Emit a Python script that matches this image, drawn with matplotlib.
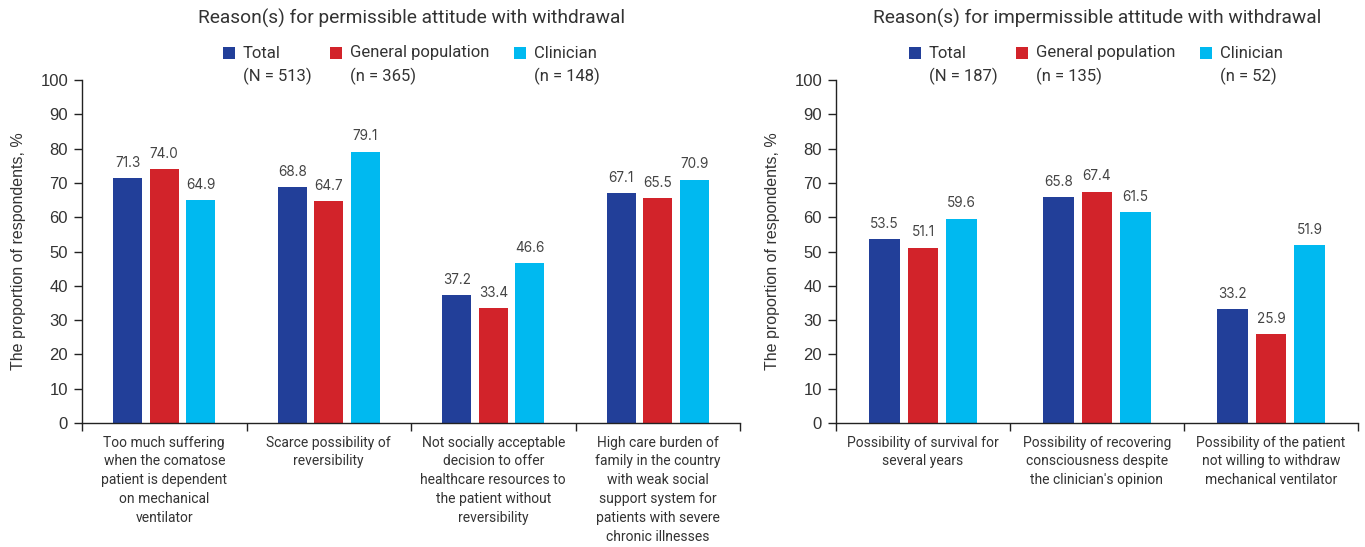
import matplotlib
matplotlib.use("Agg")
import matplotlib.pyplot as plt
from matplotlib.patches import Rectangle
import numpy as np

# ---- data ----
series_names = ["Total", "General population", "Clinician"]
colors = ["#223F99", "#D2232A", "#00B9F0"]

permissible_title = "Reason(s) for permissible attitude with withdrawal"
permissible_counts = ["(N = 513)", "(n = 365)", "(n = 148)"]
permissible_categories = [
    "Too much suffering\nwhen the comatose\npatient is dependent\non mechanical\nventilator",
    "Scarce possibility of\nreversibility",
    "Not socially acceptable\ndecision to offer\nhealthcare resources to\nthe patient without\nreversibility",
    "High care burden of\nfamily in the country\nwith weak social\nsupport system for\npatients with severe\nchronic illnesses",
]
permissible_total = [71.3, 68.8, 37.2, 67.1]
permissible_general = [74.0, 64.7, 33.4, 65.5]
permissible_clinician = [64.9, 79.1, 46.6, 70.9]

impermissible_title = "Reason(s) for impermissible attitude with withdrawal"
impermissible_counts = ["(N = 187)", "(n = 135)", "(n = 52)"]
impermissible_categories = [
    "Possibility of survival for\nseveral years",
    "Possibility of recovering\nconsciousness despite\nthe clinician's opinion",
    "Possibility of the patient\nnot willing to withdraw\nmechanical ventilator",
]
impermissible_total = [53.5, 65.8, 33.2]
impermissible_general = [51.1, 67.4, 25.9]
impermissible_clinician = [59.6, 61.5, 51.9]

y_ticks = list(range(0, 101, 10))
y_label = "The proportion of respondents, %"

# ---- styling ----
W, H = 1365, 547
LABEL_FONT = ["Roboto", "DejaVu Sans"]
TICK_FONT = ["Liberation Sans", "DejaVu Sans"]
VALUE_FONT = ["Inter", "DejaVu Sans"]
TEXT_COLOR = "#333333"
AXIS_COLOR = "#222222"

fig = plt.figure(figsize=(W / 100, H / 100), dpi=100)


def fx(px):
    return px / W


def fy(py):
    return 1 - py / H


def draw_panel(left_px, right_px, title, counts, categories, series):
    y0_px, y100_px = 423, 80
    ax = fig.add_axes([fx(left_px), fy(y0_px), fx(right_px - left_px),
                       (y0_px - y100_px) / H])
    n = len(categories)
    x = np.arange(n)
    width = 0.176
    step = 0.221
    for i, (vals, col) in enumerate(zip(series, colors)):
        pos = x + (i - 1) * step
        bars = ax.bar(pos, vals, width=width, color=col, zorder=2)
        for b, v in zip(bars, vals):
            ax.annotate(f"{v:.1f}", (b.get_x() + b.get_width() / 2, v),
                        xytext=(0, 6), textcoords="offset points",
                        ha="center", va="bottom", fontsize=9.8,
                        color="#444444", family=VALUE_FONT)

    ax.set_xlim(-0.5, n - 0.5)
    ax.set_ylim(0, 100)
    ax.set_yticks(y_ticks)
    ax.set_yticklabels([str(t) for t in y_ticks], family=TICK_FONT,
                       fontsize=12, color=TEXT_COLOR)
    ax.tick_params(axis="y", length=6, width=1, color=AXIS_COLOR, pad=4)

    # group separators as major ticks, category names as minor ticks
    ax.set_xticks(np.arange(-0.5, n, 1.0))
    ax.set_xticklabels([])
    ax.tick_params(axis="x", which="major", length=6, width=1,
                   color=AXIS_COLOR, direction="out")
    ax.set_xticks(x, minor=True)
    ax.set_xticklabels(categories, minor=True, family=LABEL_FONT,
                       fontsize=10, color=TEXT_COLOR, linespacing=1.45,
                       va="top")
    ax.tick_params(axis="x", which="minor", length=0, pad=9)

    for s in ("top", "right"):
        ax.spines[s].set_visible(False)
    for s in ("left", "bottom"):
        ax.spines[s].set_color(AXIS_COLOR)
        ax.spines[s].set_linewidth(1)

    ax.set_ylabel(y_label, family=TICK_FONT, fontsize=11.5,
                  color=TEXT_COLOR, labelpad=10)

    # title
    cx = (left_px + right_px) / 2
    fig.text(fx(cx), fy(18), title, ha="center", va="center",
             family=LABEL_FONT, fontsize=13.8, color=TEXT_COLOR)

    # legend: square + name on first row, sample size below
    text_offsets = [-168, -61, 123]
    for off, name, cnt, col in zip(text_offsets, series_names, counts, colors):
        tx = cx + off
        fig.patches.append(Rectangle((fx(tx - 20), fy(59)), fx(12), 12 / H,
                                     transform=fig.transFigure,
                                     facecolor=col, edgecolor="none"))
        fig.text(fx(tx), fy(53), name, ha="left", va="center",
                 family=LABEL_FONT, fontsize=12, color=TEXT_COLOR)
        fig.text(fx(tx), fy(76), cnt, ha="left", va="center",
                 family=LABEL_FONT, fontsize=12, color=TEXT_COLOR)
    return ax


draw_panel(82, 740, permissible_title, permissible_counts,
           permissible_categories,
           [permissible_total, permissible_general, permissible_clinician])
draw_panel(836, 1358, impermissible_title, impermissible_counts,
           impermissible_categories,
           [impermissible_total, impermissible_general, impermissible_clinician])

fig.savefig("out.png", dpi=100, facecolor="white")
